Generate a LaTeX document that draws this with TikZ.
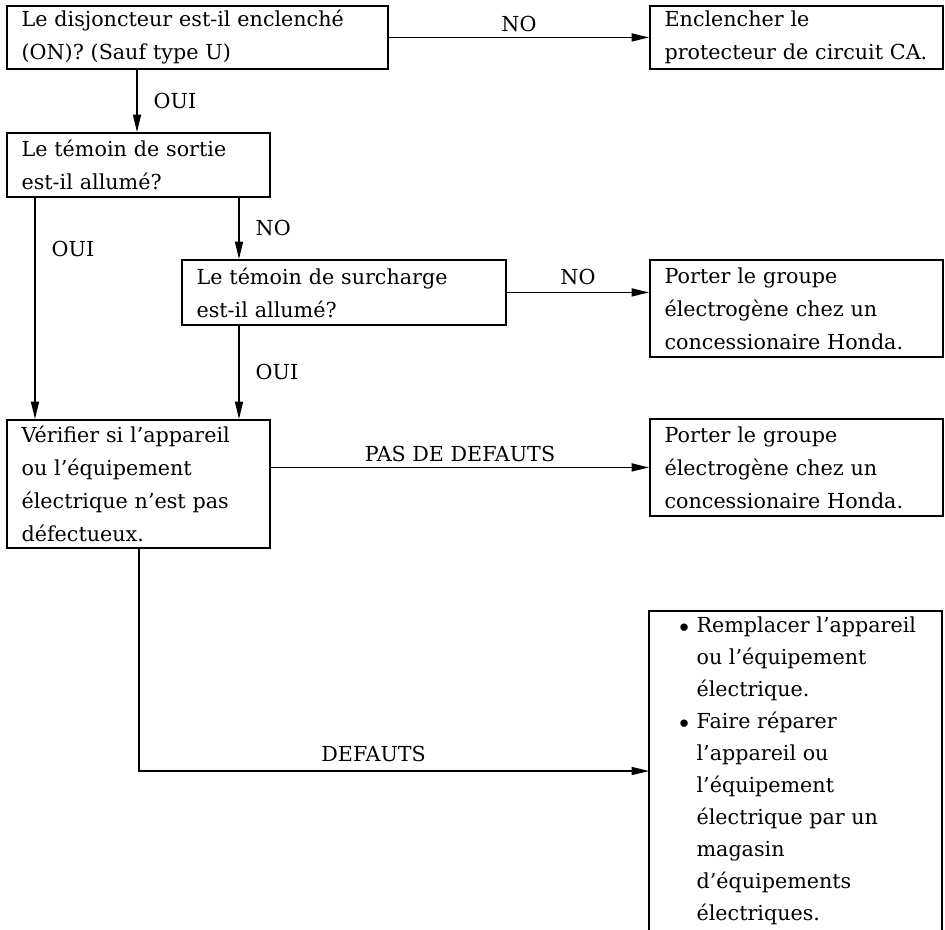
\documentclass[tikz,border=0pt]{standalone}
\usepackage{fontspec}
\setmainfont{DejaVu Serif}
\usetikzlibrary{arrows.meta,calc,positioning}
\newcommand{\bul}{\makebox[13pt][l]{$\bullet$}}
\newcommand{\cont}{\hspace*{13pt}}
\begin{document}
\begin{tikzpicture}[x=0.75pt,y=-0.75pt]
\tikzset{box/.style={draw,line width=1.4pt,anchor=north west,inner xsep=11pt,inner ysep=0pt,align=left,
    font=\fontsize{15.5}{24.75}\selectfont},
  arr/.style={line width=1.1pt,-{Triangle[length=13pt,width=6pt]}},
  lbl/.style={font=\fontsize{15.5}{24.75}\selectfont,inner sep=1pt}}
\pgfmathsetmacro{\rx}{649}
\pgfmathsetmacro{\rw}{293}
\useasboundingbox (0,0) rectangle (945,929);
\node[box,minimum width=285.75pt,minimum height=47.25pt,text width=263.75pt] (dsj) at (6,5)
  {Le disjoncteur est-il enclenché\\(ON)? (Sauf type U)};
\node[box,minimum width=219.75pt,minimum height=47.25pt,text width=197.75pt] (encl) at (\rx,5)
  {Enclencher le\\\mbox{protecteur de circuit CA.}};
\node[box,minimum width=197.25pt,minimum height=48pt,text width=175.25pt] (sortie) at (6,132)
  {Le témoin de sortie\\est-il allumé?};
\node[box,minimum width=243pt,minimum height=48.75pt,text width=221pt] (surch) at (181,259)
  {Le témoin de surcharge\\est-il allumé?};
\node[box,minimum width=219.75pt,minimum height=72.75pt,text width=197.75pt] (honda1) at (\rx,259)
  {Porter le groupe\\électrogène chez un\\\mbox{concessionaire Honda.}};
\node[box,minimum width=197.25pt,minimum height=96pt,text width=175.25pt] (verif) at (6,419)
  {Vérifier si l'appareil\\ou l'équipement\\\mbox{électrique n'est pas}\\défectueux.};
\node[box,minimum width=219.75pt,minimum height=72.75pt,text width=197.75pt] (honda2) at (\rx,418)
  {Porter le groupe\\électrogène chez un\\\mbox{concessionaire Honda.}};
\coordinate (rempl) at (\rx,611);
\draw[line width=1.4pt] ($(rempl)+(0,330)$) -- (rempl) -- ($(rempl)+(\rw,0)$) -- ++(0,330);
\node[anchor=north west,inner sep=0pt,align=left,font=\fontsize{15.5}{24}\selectfont] (remtxt) at ($(rempl)+(30,6)$)
  {\bul Remplacer l'appareil\\\cont ou l'équipement\\\cont électrique.\\
   \bul Faire réparer\\\cont l'appareil ou\\\cont l'équipement\\\cont électrique par un\\
   \cont magasin\\\cont d'équipements\\\cont électriques.};
\coordinate (a1) at ($(dsj.south west)+(131,0)$);
\coordinate (c1) at ($(sortie.south west)+(233,0)$);
\coordinate (c2) at ($(sortie.south west)+(29,0)$);
\coordinate (e1) at ($(verif.south west)+(133,0)$);
\coordinate (h1) at ($(rempl)+(0,160)$);
\draw[arr] (dsj.east) -- (dsj.east -| encl.west) node[lbl,midway,above=3pt]{NO};
\draw[arr] (a1) -- (a1 |- sortie.north) node[lbl,midway,right=11pt]{OUI};
\draw[arr] (c1) -- (c1 |- surch.north) node[lbl,midway,right=11pt]{NO};
\draw[arr] (c2) -- (c2 |- verif.north) node[lbl,pos=0.23,right=11pt]{OUI};
\draw[arr] (surch.east) -- (surch.east -| honda1.west) node[lbl,midway,above=4pt]{NO};
\draw[arr] (surch.south -| c1) -- (verif.north -| c1) node[lbl,midway,right=11pt]{OUI};
\draw[arr] (verif.east |- honda2.west) -- (honda2.west) node[lbl,midway,above=3pt]{PAS DE DEFAUTS};
\draw[arr] (e1) |- (h1) node[lbl,pos=0.73,above=5pt]{DEFAUTS};
\end{tikzpicture}
\end{document}
